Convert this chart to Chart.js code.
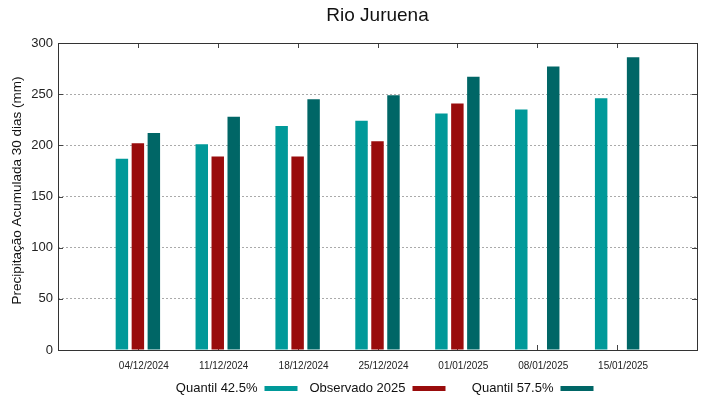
<!DOCTYPE html>
<html>
<head>
<meta charset="utf-8">
<title>Rio Juruena</title>
<script src="https://cdn.jsdelivr.net/npm/chart.js@4.4.1/dist/chart.umd.min.js"></script>
<style>
  html, body { margin: 0; padding: 0; background: #fff; }
  canvas { display: block; }
</style>
</head>
<body>
<canvas id="chart" width="719" height="399"></canvas>
<script>
// Chart data
const chartTitle = 'Rio Juruena';
const yAxisTitle = 'Precipitação Acumulada 30 dias (mm)';
const dates = ['04/12/2024', '11/12/2024', '18/12/2024', '25/12/2024', '01/01/2025', '08/01/2025', '15/01/2025'];
const quantil425 = [187, 201, 219, 224, 231, 235, 246];
const observado2025 = [202, 189, 189, 204, 241, null, null];
const quantil575 = [212, 228, 245, 249, 267, 277, 286];
const yTicks = [0, 50, 100, 150, 200, 250, 300];

// Empty slot on each side, like the gnuplot x range
const labels = ['', ...dates, ''];
const pad = arr => [null, ...arr, null];

const FONT = "'Liberation Sans', Arial, sans-serif";
Chart.defaults.font.family = FONT;

// Frame, inside tick marks, title and legend drawn around the plot
const framePlugin = {
  id: 'frame',
  beforeDatasetsDraw(chart) {
    const { ctx, chartArea: a, scales } = chart;
    ctx.save();
    ctx.strokeStyle = '#444';
    ctx.lineWidth = 1;
    ctx.beginPath();
    yTicks.forEach(v => {
      const y = Math.round(scales.y.getPixelForValue(v)) + 0.5;
      ctx.moveTo(a.left, y); ctx.lineTo(a.left + 5, y);
      ctx.moveTo(a.right, y); ctx.lineTo(a.right - 5, y);
    });
    dates.forEach((d, i) => {
      const x = Math.round(scales.x.getPixelForValue(i + 1)) + 0.5;
      ctx.moveTo(x, a.top); ctx.lineTo(x, a.top + 5);
      ctx.moveTo(x, a.bottom); ctx.lineTo(x, a.bottom - 5);
    });
    ctx.stroke();
    ctx.restore();
  },
  afterDatasetsDraw(chart) {
    const { ctx, chartArea: a } = chart;
    ctx.save();
    ctx.strokeStyle = '#333';
    ctx.lineWidth = 1;
    ctx.strokeRect(Math.round(a.left) + 0.5, Math.round(a.top) + 0.5,
      Math.round(a.right - a.left), Math.round(a.bottom - a.top));
    ctx.restore();
  },
  afterDraw(chart) {
    const { ctx, chartArea: a } = chart;
    const cx = (a.left + a.right) / 2;
    ctx.save();
    ctx.fillStyle = '#111';

    // title
    ctx.font = `19px ${FONT}`;
    ctx.textAlign = 'center';
    ctx.textBaseline = 'middle';
    ctx.fillText(chartTitle, cx, 16);

    // y axis title
    ctx.save();
    ctx.translate(17, (a.top + a.bottom) / 2 - 6);
    ctx.rotate(-Math.PI / 2);
    ctx.font = `13.5px ${FONT}`;
    ctx.fillText(yAxisTitle, 0, 0);
    ctx.restore();

    // legend: right aligned text, then a colour sample
    const colW = 148;
    const startX = cx - 1.5 * colW;
    ctx.font = `13px ${FONT}`;
    ctx.textAlign = 'right';
    chart.data.datasets.forEach((ds, i) => {
      const swRight = startX + colW * (i + 1) - 6;
      const swLeft = swRight - 33;
      ctx.fillStyle = ds.backgroundColor;
      ctx.fillRect(swLeft, 386, 33, 5);
      ctx.fillStyle = '#111';
      ctx.fillText(ds.label, swLeft - 7, 388);
    });
    ctx.restore();
  }
};

new Chart(document.getElementById('chart'), {
  type: 'bar',
  data: {
    labels: labels,
    datasets: [
      { label: 'Quantil 42.5%', data: pad(quantil425), backgroundColor: '#009999' },
      { label: 'Observado 2025', data: pad(observado2025), backgroundColor: '#990c0c' },
      { label: 'Quantil 57.5%', data: pad(quantil575), backgroundColor: '#006666' }
    ]
  },
  options: {
    responsive: false,
    animation: false,
    events: [],
    categoryPercentage: 0.6,
    barPercentage: 0.78,
    borderWidth: 0,
    layout: { padding: { left: 0, right: 22, top: 43, bottom: 0 } },
    plugins: {
      legend: { display: false },
      title: { display: false },
      tooltip: { enabled: false }
    },
    scales: {
      x: {
        type: 'category',
        offset: false,
        grid: { display: false, drawTicks: false },
        border: { display: false },
        ticks: {
          autoSkip: false,
          maxRotation: 0,
          minRotation: 0,
          labelOffset: 6,
          padding: 10,
          color: '#222',
          font: { size: 10 }
        },
        afterFit(scale) { scale.height = 49; }
      },
      y: {
        min: 0,
        max: 300,
        grid: {
          drawTicks: false,
          color: ctx => (ctx.tick && (ctx.tick.value === 0 || ctx.tick.value === 300)) ? 'rgba(0,0,0,0)' : '#aaa',
          lineWidth: 1
        },
        border: { display: false, dash: [2, 2] },
        ticks: {
          stepSize: 50,
          padding: 5,
          color: '#222',
          font: { size: 13 }
        },
        afterFit(scale) { scale.width = 58; }
      }
    }
  },
  plugins: [framePlugin]
});
</script>
</body>
</html>
